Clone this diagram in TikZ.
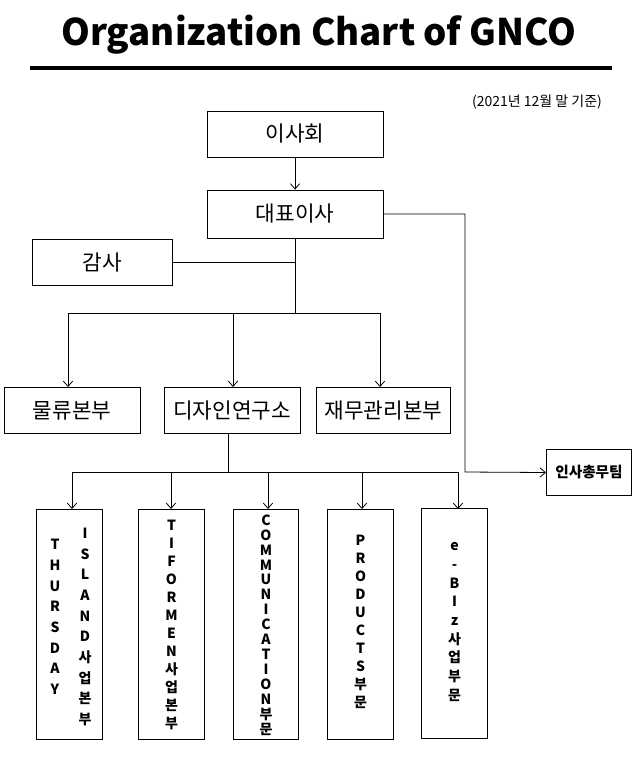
\documentclass[tikz,border=0pt]{standalone}
\usepackage{fontspec}
\setmainfont{Noto Sans CJK KR}
\usetikzlibrary{arrows.meta}

\begin{document}
\begin{tikzpicture}[x=0.75pt,y=-0.75pt]
	\tikzset{
	  BoxStyle/.style = { draw, semithick, font = \fontsize{16}{18}\selectfont },
	  TallStyle/.style = { draw, semithick, minimum width = 49pt, minimum height = 173pt },
	  VText/.style = { align = center, font = \bfseries\fontsize{10.5}{#1}\selectfont },
	  LinkStyle/.style = { semithick, -{Straight Barb[length=4pt,width=7pt]} } }
	\useasboundingbox (0,0) rectangle (638,765);
%	title
	\node (title) at (319,35) {\bfseries\fontsize{27.5}{32}\selectfont Organization Chart of GNCO};
	\draw[line width=2.3pt] (30,68) -- (612,68);
	\node[font=\fontsize{10.5}{12}\selectfont] (date) at (537,102) {(2021년 12월 말 기준)};
%	upper levels
	\node[BoxStyle, minimum width=132pt, minimum height=34.5pt] (board) at (295,134) {이사회};
	\node[BoxStyle, minimum width=132pt, minimum height=36pt] (ceo) at (295,214) {대표이사};
	\node[BoxStyle, minimum width=105pt, minimum height=34pt] (audit) at (102,262.5) {감사};
	\node[BoxStyle, minimum width=102pt, minimum height=35pt] (logis) at (72,410.5) {물류본부};
	\node[BoxStyle, minimum width=102pt, minimum height=35pt] (design) at (232,410.5) {디자인연구소};
	\node[BoxStyle, minimum width=101pt, minimum height=35pt] (finance) at (383.5,410.5) {재무관리본부};
	\node[draw, semithick, minimum width=64pt, minimum height=35pt, font=\bfseries\fontsize{11}{12}\selectfont] (hr) at (589,472.5) {인사총무팀};
%	divisions
	\node[TallStyle] (thursday) at (69.5,624.5) {};
	\node[VText=15.5pt] at (55,617) {T\\H\\U\\R\\S\\D\\A\\Y};
	\node[VText=15.5pt] at (85,627) {I\\S\\L\\A\\N\\D\\사\\업\\본\\부};
	\node[TallStyle] (tiformen) at (171.5,624.5) {};
	\node[VText=13.5pt] at (171.5,625) {T\\I\\F\\O\\R\\M\\E\\N\\사\\업\\본\\부};
	\node[TallStyle] (comm) at (266,624.5) {};
	\node[VText=11.2pt] at (266,625) {C\\O\\M\\M\\U\\N\\I\\C\\A\\T\\I\\O\\N\\부\\문};
	\node[TallStyle] (products) at (360.5,624.5) {};
	\node[VText=13.5pt] at (360.5,622) {P\\R\\O\\D\\U\\C\\T\\S\\부\\문};
	\node[TallStyle] (ebiz) at (454.5,623.5) {};
	\node[VText=14pt] at (454.5,622) {e\\-\\B\\I\\z\\사\\업\\부\\문};
%	links
	\coordinate (hub) at (295,313);
	\coordinate (bus) at (228,472);
	\draw[LinkStyle] (board) -- (ceo);
	\draw[semithick] (ceo) -- (hub);
	\draw[semithick] (audit.east) -- (295,262.5);
	\draw[semithick] (68,313) -- (380,313);
	\foreach \n/\x in {logis/68, design/233, finance/380}
	  \draw[LinkStyle] (\x,313) -- (\x,387);
	\draw[semithick] (design.south -| bus) -- (bus);
	\draw[semithick] (72,472) -- (458,472);
	\foreach \n/\x in {thursday/72, tiformen/171, comm/268, products/362, ebiz/458}
	  \draw[LinkStyle] (\x,472) -- (\x,509);
	\draw[LinkStyle] (ceo.east) -- (465,214) -- (465,472) -- (hr.west);
\end{tikzpicture}
\end{document}
